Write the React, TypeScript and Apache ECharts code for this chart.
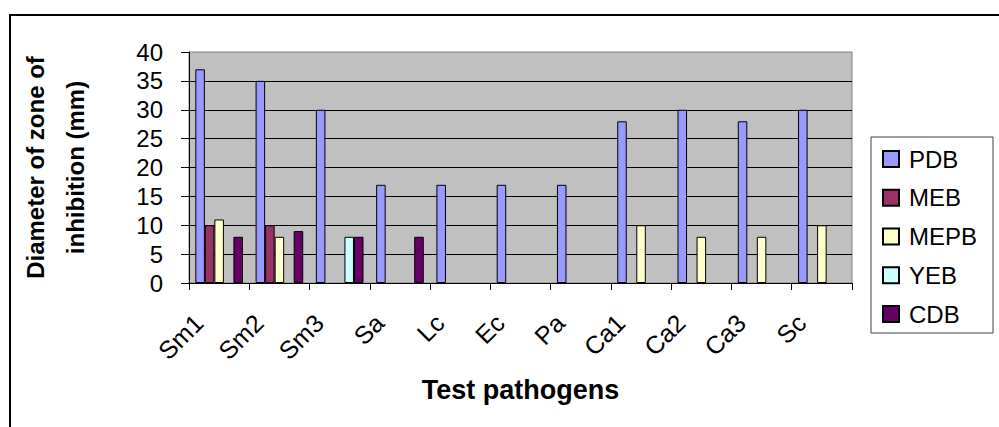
import React, { useEffect, useRef } from "react";
import * as echarts from "echarts";

const categories = ["Sm1", "Sm2", "Sm3", "Sa", "Lc", "Ec", "Pa", "Ca1", "Ca2", "Ca3", "Sc"];
const seriesNames = ["PDB", "MEB", "MEPB", "YEB", "CDB"];
const pdb = [37, 35, 30, 17, 17, 17, 17, 28, 30, 28, 30];
const meb = [10, 10, null, null, null, null, null, null, null, null, null];
const mepb = [11, 8, null, null, null, null, null, 10, 8, 8, 10];
const yeb = [null, null, 8, null, null, null, null, null, null, null, null];
const cdb = [8, 9, 8, 8, null, null, null, null, null, null, null];
const seriesColors = ["#9999FF", "#993366", "#FFFFCC", "#CCFFFF", "#660066"];
const yTicks = { min: 0, max: 40, interval: 5 };

const FONT = "'Liberation Sans', Arial, sans-serif";

export default function App() {
  const ref = useRef<HTMLDivElement>(null);
  useEffect(() => {
    if (!ref.current) return;
    const chart = echarts.init(ref.current, null, { renderer: "svg" });
    const values = [pdb, meb, mepb, yeb, cdb];
    chart.setOption({
      animation: false,
      backgroundColor: "#ffffff",
      textStyle: { fontFamily: FONT },
      graphic: [
        {
          type: "rect",
          shape: { x: 10, y: 15, width: 1100, height: 500 },
          style: { fill: "none", stroke: "#000", lineWidth: 2 },
          silent: true,
        },
      ],
      grid: {
        left: 189,
        top: 52,
        right: 147,
        bottom: 144,
        show: true,
        backgroundColor: "#C0C0C0",
        borderColor: "#808080",
        borderWidth: 1,
      },
      legend: {
        orient: "vertical",
        left: 871,
        top: 137,
        padding: [10, 16, 7, 11],
        borderColor: "#404040",
        borderWidth: 1,
        itemGap: 14.75,
        itemWidth: 16,
        itemHeight: 16,
        icon: "rect",
        data: seriesNames,
        textStyle: { fontSize: 24, color: "#000", fontFamily: FONT, padding: [0, 0, 0, 5] },
      },
      xAxis: {
        type: "category",
        data: categories,
        boundaryGap: true,
        axisLine: { lineStyle: { color: "#000", width: 1 } },
        axisTick: { show: true, length: 7, interval: 0, lineStyle: { color: "#000" } },
        axisLabel: {
          interval: 0,
          rotate: 45,
          margin: 15,
          padding: [0, 29, 0, 0],
          fontSize: 25,
          color: "#000",
          fontFamily: FONT,
        },
        name: "Test pathogens",
        nameLocation: "middle",
        nameGap: 93,
        nameTextStyle: { fontSize: 27, fontWeight: "bold", color: "#000", fontFamily: FONT },
      },
      yAxis: {
        type: "value",
        min: yTicks.min,
        max: yTicks.max,
        interval: yTicks.interval,
        axisLine: { show: true, lineStyle: { color: "#000", width: 1 } },
        axisTick: { show: true, length: 8, lineStyle: { color: "#000" } },
        axisLabel: { margin: 26, fontSize: 24, color: "#000", fontFamily: FONT },
        splitLine: { show: true, showMaxLine: false, lineStyle: { color: "#000", width: 1 } },
        name: "Diameter of zone of\ninhibition (mm)",
        nameLocation: "middle",
        nameRotate: 90,
        nameGap: 94,
        nameTextStyle: {
          fontSize: 24,
          fontWeight: "bold",
          color: "#000",
          lineHeight: 40,
          fontFamily: FONT,
        },
      },
      series: seriesNames.map((n, i) => ({
        name: n,
        type: "bar",
        data: values[i],
        barGap: "0%",
        barCategoryGap: "21%",
        itemStyle: { color: seriesColors[i], borderColor: "#000", borderWidth: 1 },
      })),
    });
    return () => chart.dispose();
  }, []);
  return (
    <div
      ref={ref}
      style={{ position: "absolute", left: 0, top: 0, width: 999, height: 427 }}
    />
  );
}
